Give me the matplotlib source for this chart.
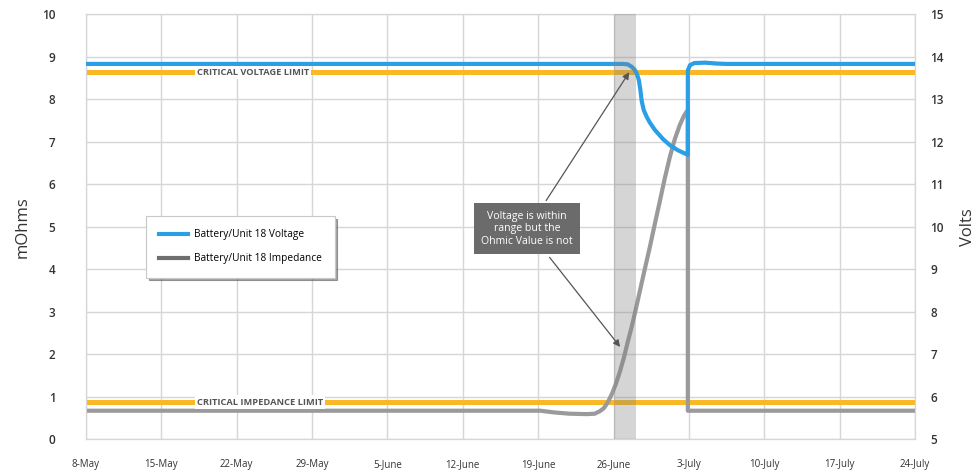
import matplotlib
matplotlib.use("Agg")
import matplotlib.pyplot as plt
from matplotlib.lines import Line2D

plt.rcParams['font.family'] = ['Open Sans', 'DejaVu Sans']

# days counted from 8-May
week_days = [0, 7, 14, 21, 28, 35, 42, 49, 56, 63, 70, 77]
week_labels = ['8-May', '15-May', '22-May', '29-May', '5-June', '12-June',
               '19-June', '26-June', '3-July', '10-July', '17-July', '24-July']

# Battery/Unit 18 impedance (mOhms)
imp_days = [0, 42.2, 43.5, 44.9, 46.5, 47.26, 47.73, 48.10, 48.47, 48.84, 49.21,
            49.58, 49.95, 50.32, 50.70, 51.07, 51.44, 51.90, 52.37, 52.83, 53.30,
            53.76, 54.23, 54.69, 55.15, 55.52, 55.90, 55.90, 77]
imp_vals = [0.67, 0.67, 0.63, 0.60, 0.59, 0.60, 0.66, 0.73, 0.87, 1.06, 1.30,
            1.58, 1.91, 2.29, 2.66, 3.06, 3.48, 4.00, 4.52, 5.06, 5.60,
            6.14, 6.64, 7.06, 7.39, 7.60, 7.75, 0.67, 0.67]

# Battery/Unit 18 voltage (Volts)
volt_days = [0, 49.86, 50.32, 50.70, 50.97, 51.16, 51.35, 51.49, 51.62, 51.81,
             52.09, 52.37, 52.83, 53.60, 54.23, 54.97, 55.90, 55.90, 56.1, 56.5,
             57.5, 58.5, 59.5, 77]
volt_vals = [13.83, 13.83, 13.82, 13.76, 13.69, 13.60, 13.45, 13.22, 12.95, 12.74,
             12.58, 12.45, 12.28, 12.06, 11.92, 11.80, 11.69, 13.68, 13.80, 13.85,
             13.86, 13.84, 13.83, 13.83]

volt_limit = 13.63
imp_limit = 0.87
event_start, event_end = 49.0, 51.1

fig = plt.figure(figsize=(9.79, 4.70), dpi=100)
ax = fig.add_axes([86 / 979, 1 - 439.2 / 470, 829 / 979, 425 / 470])
ax2 = ax.twinx()

grid_c = '#d6d6d6'
ax.set_xlim(0, 77)
ax.set_ylim(0, 10)
ax2.set_ylim(5, 15)
ax.set_yticks(range(0, 11))
ax2.set_yticks(range(5, 16))
ax.set_xticks(week_days)
ax.set_xticklabels(week_labels)
for d in week_days:
    ax.axvline(d, color=grid_c, lw=1, zorder=0)
for v in range(0, 11):
    ax.axhline(v, color=grid_c, lw=1, zorder=0)

for a in (ax, ax2):
    for s in a.spines.values():
        s.set_color(grid_c)
    a.tick_params(length=0)

ax.tick_params(axis='x', pad=14, labelsize=7, labelcolor='#333333')
ax.tick_params(axis='y', pad=22, labelsize=8.5, labelcolor='#333333')
ax2.tick_params(axis='y', pad=11, labelsize=8.5, labelcolor='#333333')
for lab in ax.get_yticklabels() + ax2.get_yticklabels():
    lab.set_fontweight('semibold')

ax.set_ylabel('mOhms', fontsize=12, color='#333333', labelpad=8)
ax2.set_ylabel('Volts', fontsize=12, color='#333333', labelpad=12)

orange = '#fbb826'
blue = '#2b9fe6'
grey = '#9a9a9c'

ax.axhline(imp_limit, color=orange, lw=3.6, zorder=2)
ax.plot(imp_days, imp_vals, color=grey, lw=3, zorder=3, solid_joinstyle='round')
ax2.axhline(volt_limit, color=orange, lw=3.6, zorder=2)
ax2.plot(volt_days, volt_vals, color=blue, lw=3, zorder=3, solid_joinstyle='round')
ax2.axvspan(event_start, event_end, color='#808080', alpha=0.33, lw=0, zorder=4)

lim_style = dict(fontsize=6.7, fontweight='bold', color='#555555', va='center', ha='left',
                 bbox=dict(boxstyle='square,pad=0.25', fc='white', ec='none'), zorder=5)
ax2.text(10.3, volt_limit, 'CRITICAL VOLTAGE LIMIT', **lim_style)
ax2.text(10.3, imp_limit, 'CRITICAL IMPEDANCE LIMIT', transform=ax.transData, **lim_style)

# callout box with two arrows
arrow = dict(arrowstyle='-|>', color='#555555', lw=0.9, mutation_scale=10)
ax2.annotate('', xy=(50.6, 8.69), xytext=(42.6, 5.56), xycoords=ax.transData,
             textcoords=ax.transData, arrowprops=arrow, zorder=6)
ax2.annotate('', xy=(49.77, 2.12), xytext=(42.9, 4.33), xycoords=ax.transData,
             textcoords=ax.transData, arrowprops=arrow, zorder=6)
ax2.text(40.95, 4.95, 'Voltage is within\nrange but the\nOhmic Value is not',
         transform=ax.transData, ha='center', va='center', fontsize=7.6, color='white',
         linespacing=1.2, zorder=7,
         bbox=dict(boxstyle='square,pad=0.7', fc='#6b6b6b', ec='none'))

handles = [Line2D([], [], color=blue, lw=3), Line2D([], [], color='#6e6e6e', lw=3)]
leg = ax2.legend(handles, ['Battery/Unit 18 Voltage', 'Battery/Unit 18 Impedance'],
                 loc='upper left', bbox_to_anchor=(146 / 979, 1 - 216 / 470),
                 bbox_transform=fig.transFigure, fontsize=7.3, frameon=True,
                 fancybox=False, shadow=True, handlelength=2.8, handletextpad=0.6,
                 borderpad=1.3, labelspacing=1.3, borderaxespad=0)
leg.get_frame().set_edgecolor('#c8c8c8')
leg.get_frame().set_linewidth(0.8)
leg.set_zorder(8)

fig.savefig('out.png', dpi=100)
